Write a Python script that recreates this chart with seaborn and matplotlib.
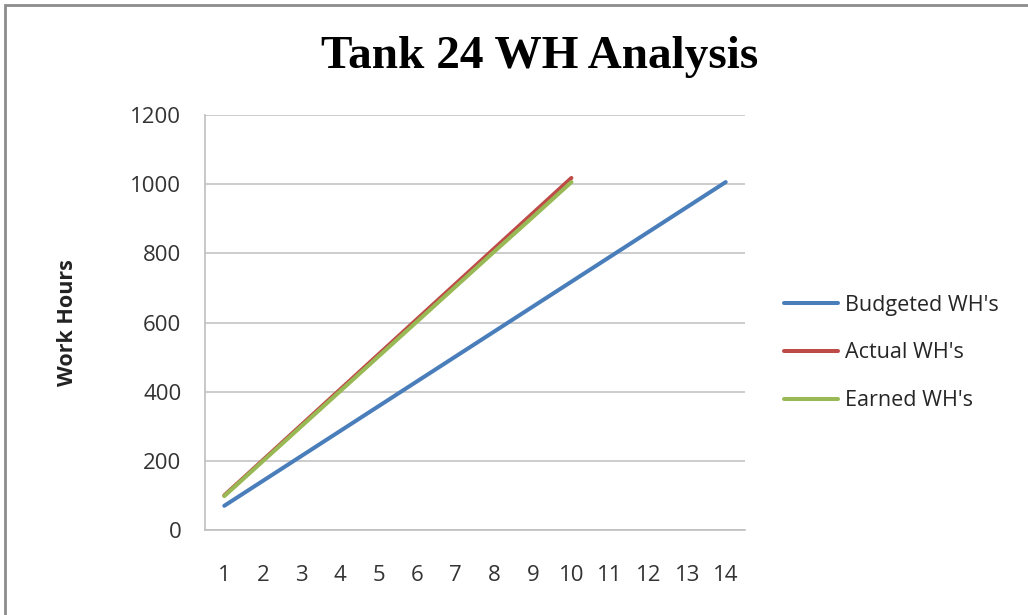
import matplotlib
matplotlib.use("Agg")
import matplotlib.pyplot as plt
import matplotlib.patches as patches
import pandas as pd
import seaborn as sns

# datos
weeks = list(range(1, 15))
budgeted = [70, 142, 214, 286, 358, 430, 502, 574, 646, 718, 790, 862, 934, 1006]
actual = [100, 202, 304, 406, 508, 610, 712, 814, 916, 1018]
earned = [98, 199, 300, 401, 502, 603, 704, 805, 905, 1006]
series_names = ["Budgeted WH's", "Actual WH's", "Earned WH's"]
colors = ["#4A7EBB", "#BE4B48", "#98B954"]

rows = []
for name, vals in zip(series_names, [budgeted, actual, earned]):
    for w, v in zip(weeks, vals):
        rows.append({"week": w, "hours": v, "serie": name})
df = pd.DataFrame(rows)

sns.set_style("white")
plt.rcParams["font.family"] = ["Open Sans", "DejaVu Sans"]

fig = plt.figure(figsize=(10.28, 6.15), dpi=100)
ax = fig.add_axes([0.1994, 0.1382, 0.5253, 0.6748])

sns.lineplot(data=df, x="week", y="hours", hue="serie", hue_order=series_names,
             palette=colors, linewidth=2.9, ax=ax, legend=True)

ax.set_xlim(0.5, 14.5)
ax.set_ylim(0, 1200)
ax.set_xticks(weeks)
ax.set_yticks(range(0, 1201, 200))
ax.yaxis.grid(True, color="#BFBFBF", linewidth=1.1)
ax.xaxis.grid(False)
ax.set_axisbelow(True)
for s in ["top", "right"]:
    ax.spines[s].set_visible(False)
for s in ["left", "bottom"]:
    ax.spines[s].set_color("#BFBFBF")
    ax.spines[s].set_linewidth(1.2)
ax.tick_params(axis="x", length=0, pad=25, labelsize=16, colors="#333333")
ax.tick_params(axis="y", length=0, pad=17, labelsize=16, colors="#333333")
ax.set_xlabel("")
ax.set_ylabel("Work Hours", fontsize=15.5, fontweight="bold", color="#222222", labelpad=38)

ax.legend(loc="center left", bbox_to_anchor=(765 / 1028, 1 - 353 / 615),
          bbox_transform=fig.transFigure, frameon=False, fontsize=15.5,
          handlelength=2.5, handletextpad=0.3, labelspacing=1.25)
for line in ax.get_legend().get_lines():
    line.set_linewidth(2.9)

fig.text(540 / 1028, 1 - 57 / 615, "Tank 24 WH Analysis", ha="center", va="center",
         fontsize=34, fontweight="bold", family="Liberation Serif", color="black")

# marco exterior del grafico
fig.patches.append(patches.Rectangle((5 / 1028, -0.05), 1.1, 1 - 5 / 615 + 0.05,
                                     transform=fig.transFigure, fill=False,
                                     edgecolor="#8C8C8C", linewidth=2))

fig.savefig("out.png", dpi=100)
